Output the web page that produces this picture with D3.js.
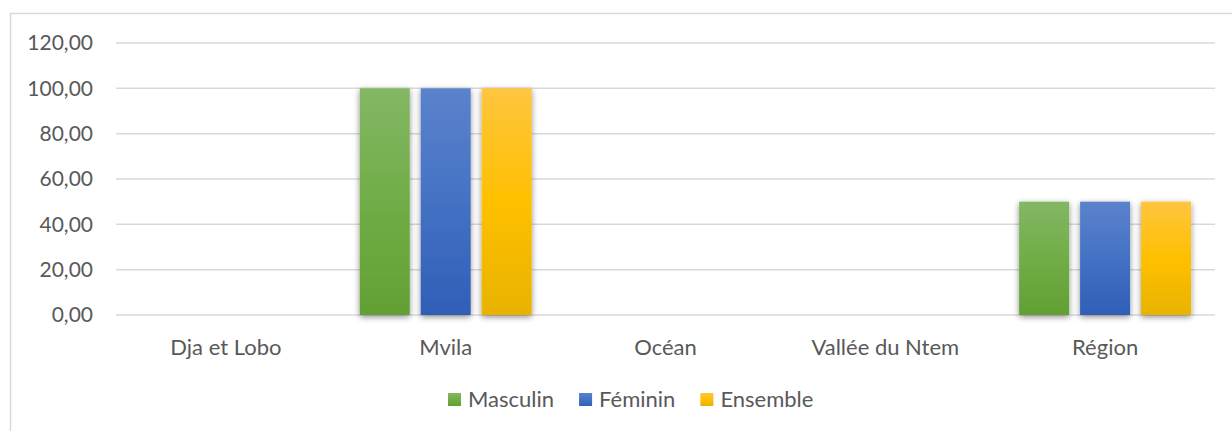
<!DOCTYPE html>
<html><head><meta charset="utf-8">
<script src="https://cdn.jsdelivr.net/npm/d3@7"></script>
<style>body{margin:0;background:#fff;}svg{display:block;}</style>
</head><body>
<script>
const categories = ["Dja et Lobo", "Mvila", "Océan", "Vallée du Ntem", "Région"];
const seriesNames = ["Masculin", "Féminin", "Ensemble"];
const masculin = [0, 100, 0, 0, 50];
const feminin = [0, 100, 0, 0, 50];
const ensemble = [0, 100, 0, 0, 50];
const yTicks = [0, 20, 40, 60, 80, 100, 120];
const seriesValues = [masculin, feminin, ensemble];

const W = 1232, H = 431;
const svg = d3.select("body").append("svg").attr("width", W).attr("height", H);
const font = "Lato, 'Open Sans', sans-serif";
const textColor = "#595959";

// border of chart area
svg.append("path").attr("d", `M1232,13.5 H10.5 V431`).attr("fill","none").attr("stroke","#d9d9d9").attr("stroke-width",1.5);

const defs = svg.append("defs");
const grads = [
  ["#84b764", "#70ad47", "#62a034"],
  ["#5b82cc", "#4472c4", "#2f5fb7"],
  ["#ffc53f", "#ffc000", "#e8b300"]
];
grads.forEach((g, i) => {
  const lg = defs.append("linearGradient").attr("id", "g" + i).attr("x1",0).attr("y1",0).attr("x2",0).attr("y2",1);
  lg.append("stop").attr("offset","0%").attr("stop-color", g[0]);
  lg.append("stop").attr("offset","50%").attr("stop-color", g[1]);
  lg.append("stop").attr("offset","100%").attr("stop-color", g[2]);
});
const f = defs.append("filter").attr("id","sh").attr("x","-30%").attr("y","-10%").attr("width","160%").attr("height","125%");
f.append("feGaussianBlur").attr("in","SourceAlpha").attr("stdDeviation",3).attr("result","b");
f.append("feOffset").attr("in","b").attr("dx",0).attr("dy",2).attr("result","o");
f.append("feComponentTransfer").attr("in","o").attr("result","o2").append("feFuncA").attr("type","linear").attr("slope",0.45);
const fm = f.append("feMerge");
fm.append("feMergeNode").attr("in","o2");
fm.append("feMergeNode").attr("in","SourceGraphic");

const x0 = d3.scaleBand().domain(categories).range([116, 1215]).paddingInner(0.218).paddingOuter(0.109);
const x1 = d3.scaleBand().domain(seriesNames).range([0, x0.bandwidth()]).paddingInner(0.18);
const y = d3.scaleLinear().domain([0, 120]).range([315, 43]);

// grid
svg.append("g").selectAll("line").data(yTicks).join("line")
  .attr("x1", 116).attr("x2", 1215)
  .attr("y1", d => y(d)).attr("y2", d => y(d))
  .attr("stroke", "#d9d9d9").attr("stroke-width", 1.5);

// y labels
const fmt = d => d.toFixed(2).replace(".", ",");
svg.append("g").selectAll("text").data(yTicks).join("text")
  .attr("x", 93).attr("y", d => y(d)).attr("dy", "0.35em")
  .attr("text-anchor", "end").attr("fill", textColor)
  .style("font-family", font).style("font-size", "21px")
  .text(fmt);

// bars
const groups = svg.append("g").selectAll("g").data(categories).join("g")
  .attr("transform", c => `translate(${x0(c)},0)`);
groups.selectAll("rect").data((c, ci) => seriesNames.map((s, si) => ({s, si, v: seriesValues[si][ci]})))
  .join("rect")
  .filter(d => d.v > 0)
  .attr("x", d => x1(d.s)).attr("width", x1.bandwidth())
  .attr("y", d => y(d.v)).attr("height", d => y(0) - y(d.v))
  .attr("fill", d => `url(#g${d.si})`)
  .attr("filter", "url(#sh)");

// x labels
svg.append("g").selectAll("text").data(categories).join("text")
  .attr("x", c => x0(c) + x0.bandwidth()/2).attr("y", 355)
  .attr("text-anchor", "middle").attr("fill", textColor)
  .style("font-family", font).style("font-size", "22px")
  .text(c => c);

// legend
let lx = 448;
seriesNames.forEach((s, i) => {
  const g = svg.append("g").attr("transform", `translate(${lx},393)`);
  g.append("rect").attr("width", 13).attr("height", 13).attr("fill", `url(#g${i})`);
  const t = g.append("text").attr("x", 20).attr("y", 6.5).attr("dy", "0.36em")
    .attr("fill", textColor).style("font-family", font).style("font-size", "22px")
    .text(s);
  lx += 20 + t.node().getComputedTextLength() + 25;
});
</script>
</body></html>
